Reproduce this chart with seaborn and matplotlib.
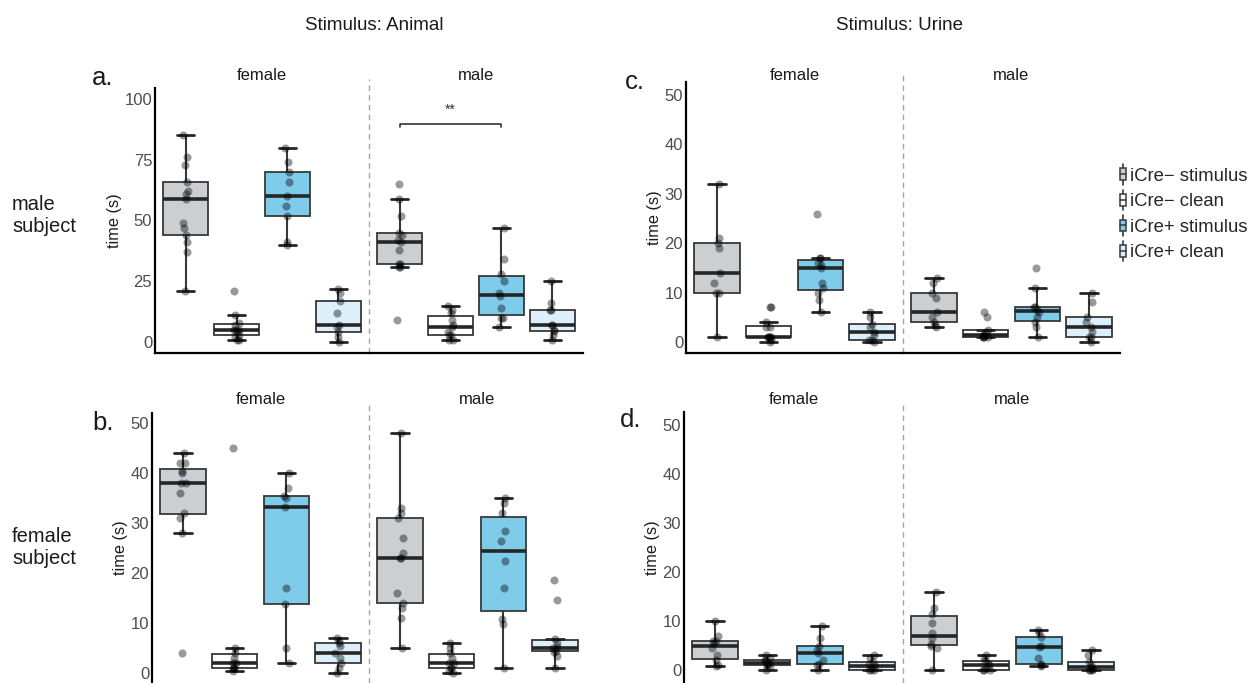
import numpy as np
import pandas as pd
import matplotlib
matplotlib.use("Agg")
import matplotlib.pyplot as plt
import seaborn as sns
from matplotlib.legend_handler import HandlerBase
from matplotlib.patches import Rectangle, Patch
from matplotlib.lines import Line2D

# ---------------------------------------------------------------- data
conditions = ["iCre− stimulus", "iCre− clean", "iCre+ stimulus", "iCre+ clean"]
box_colors = ["#cbcfd2", "#ffffff", "#7fcbea", "#ddeffa"]
stimulus_sexes = ["female", "male"]

# a. male subject, animal stimulus (one list per condition)
a_female = [[85, 76, 73, 66, 62, 61, 59, 49, 47, 44, 41, 37, 21],
            [21, 11, 8, 7, 5, 5, 5, 4, 3, 2, 1, 1],
            [80, 74, 70, 66, 60, 56, 52, 41, 40],
            [22, 20, 17, 12, 7, 6, 4, 2, 0]]
a_male = [[65, 59, 52, 45, 44, 42, 41, 38, 32, 32, 31, 31, 9],
          [15, 13, 12, 9, 7, 6, 4, 3, 3, 1, 1],
          [47, 34, 28, 25, 20, 19, 14, 10, 10, 6],
          [25, 16, 13, 13, 7, 7, 5, 4.5, 3, 1]]

# b. female subject, animal stimulus
b_female = [[44, 42, 42, 40.5, 40, 38, 38, 36, 32, 31, 28, 4],
            [45, 5, 4, 3, 2, 2, 1, 1, 1, 0.5],
            [40, 37, 35.4, 35, 33.3, 17, 13.9, 5, 2],
            [7, 6.5, 6, 5.5, 4, 3, 2, 1, 0]]
b_male = [[48, 33, 32, 31, 27, 24, 23, 23, 16, 14, 13, 11, 5],
          [6, 5, 4, 3, 2, 2, 1, 1, 0.5, 0],
          [35, 34, 32, 28.5, 26.5, 22.5, 17, 10.9, 9.8, 1],
          [18.6, 14.6, 6.8, 6, 5.2, 5, 4.5, 4.3, 3.5, 1]]

# c. male subject, urine stimulus
c_female = [[32, 21, 20, 19, 14, 12, 10, 10, 1],
            [7, 7, 4, 3, 3, 1, 1, 1, 1, 1, 0.5, 0],
            [26, 17, 17, 16, 15.5, 15, 12, 11, 10, 8.5, 6],
            [6, 5, 3.6, 3, 2, 1.5, 0.5, 0.5, 0]]
c_male = [[13, 12, 10, 9, 6, 5, 4, 3.5, 3],
          [6, 5, 2.5, 2, 1.5, 1.5, 1, 1, 1, 1],
          [15, 11, 7, 7, 6.5, 6, 5, 4, 3, 1],
          [10, 8, 5, 4, 3, 2, 1, 1, 0]]

# d. female subject, urine stimulus
d_female = [[10, 7, 6, 6, 5.5, 4.5, 3, 2, 1, 0.8],
            [3, 2.5, 2, 1.8, 1.5, 1.2, 1, 0.9, 0],
            [9, 6.5, 4.8, 4, 3.5, 2, 1.2, 1, 0],
            [3, 2.5, 1.7, 1.2, 0.9, 0.5, 0, 0, 0]]
d_male = [[16, 12.6, 11.5, 9.5, 7.5, 6.5, 5.4, 5, 4.4, 0],
          [3, 2.5, 1.9, 1.5, 1, 0.5, 0, 0, 0],
          [8.2, 7.5, 6.8, 5, 4.6, 2.5, 1.2, 1.1, 0.9],
          [4, 3, 1.7, 1, 0.6, 0.3, 0, 0, 0]]

# ---------------------------------------------------------------- style
sns.set_theme(style="white")
plt.rcParams["font.family"] = ["Liberation Sans", "DejaVu Sans"]
np.random.seed(7)

W, H = 1249, 683
fig = plt.figure(figsize=(W / 100, H / 100), dpi=100)
palette = dict(zip(conditions, box_colors))


def px_rect(x0, x1, y0, y1):
    return [x0 / W, 1 - y1 / H, (x1 - x0) / W, (y1 - y0) / H]


def long_frame(groups):
    rows = []
    for cond, vals in zip(conditions, groups):
        rows += [(cond, v) for v in vals]
    return pd.DataFrame(rows, columns=["condition", "time"])


def draw_facet(ax, groups, ylim, yticks, first, bottom_row):
    df = long_frame(groups)
    sns.boxplot(data=df, x="condition", y="time", hue="condition",
                order=conditions, hue_order=conditions, palette=palette,
                saturation=1, width=0.88, showfliers=False, legend=False,
                ax=ax, linecolor="#383838", linewidth=1.3, capwidths=0.34,
                medianprops={"linewidth": 2.6, "color": "#262626"},
                capprops={"linewidth": 2.0, "color": "#262626"},
                whiskerprops={"linewidth": 1.5, "color": "#383838"})
    sns.stripplot(data=df, x="condition", y="time", order=conditions,
                  color="black", alpha=0.4, size=5.8, jitter=0.06,
                  ax=ax, zorder=4)
    ax.set_xlim(-0.6, 3.6)
    ax.set_ylim(*ylim)
    ax.set_yticks(yticks)
    ax.set_xticks([])
    ax.set_xlabel("")
    for s in ["top", "right"]:
        ax.spines[s].set_visible(False)
    ax.spines["bottom"].set_visible(not bottom_row)
    ax.spines["bottom"].set_color("black")
    ax.spines["bottom"].set_linewidth(1.6)
    if first:
        ax.spines["left"].set_color("black")
        ax.spines["left"].set_linewidth(1.6)
        ax.tick_params(axis="y", length=0, pad=2, labelsize=12,
                       labelcolor="#4d4d4d")
        ax.set_ylabel("time (s)", fontsize=11.7, color="#1a1a1a", labelpad=2)
    else:
        ax.spines["left"].set_visible(False)
        ax.set_yticks([])
        ax.set_ylabel("")
        ax.plot([0, 0], [0, 1.035], transform=ax.transAxes, clip_on=False,
                color="#a6a6a6", lw=1.0, ls=(0, (4, 3)))


panels = [
    # letter, data (female, male), x0, xmid, x1, y0, y1, ylim, yticks, letter pos, label y, bottom row
    ("a.", (a_female, a_male), 155, 369, 583, 88, 353, (-4.53, 104.5),
     [0, 25, 50, 75, 100], (92, 78), 76, False),
    ("c.", (c_female, c_male), 686, 903, 1120, 82, 353, (-2.23, 52.63),
     [0, 10, 20, 30, 40, 50], (625, 82), 76, False),
    ("b.", (b_female, b_male), 152, 369, 586, 413, 683, (-2.0, 52.0),
     [0, 10, 20, 30, 40, 50], (92, 423), 399, True),
    ("d.", (d_female, d_male), 684, 903, 1122, 412, 683, (-2.65, 52.65),
     [0, 10, 20, 30, 40, 50], (620, 420), 399, True),
]

axes = {}
for letter, data, x0, xm, x1, y0, y1, ylim, yt, lpos, laby, bot in panels:
    ax_f = fig.add_axes(px_rect(x0, xm, y0, y1))
    ax_m = fig.add_axes(px_rect(xm, x1, y0, y1))
    draw_facet(ax_f, data[0], ylim, yt, True, bot)
    draw_facet(ax_m, data[1], ylim, yt, False, bot)
    axes[letter] = (ax_f, ax_m)
    for sex, xa, xb in zip(stimulus_sexes, (x0, xm), (xm, x1)):
        fig.text((xa + xb) / 2 / W, 1 - laby / H, sex, ha="center",
                 va="center", fontsize=12, color="#1a1a1a")
    fig.text(lpos[0] / W, 1 - lpos[1] / H, letter, ha="left", va="center",
             fontsize=18.5, color="#1a1a1a")

# significance bracket between iCre− stimulus and iCre+ stimulus (a., male)
ax_am = axes["a."][1]
ax_am.plot([0, 0, 2, 2], [88.4, 89.7, 89.7, 88.4], color="#333333", lw=1.2,
           clip_on=False)
ax_am.text(1, 92.5, "**", ha="center", va="bottom", fontsize=10,
           color="#333333")

# column and row headings
fig.text(374 / W, 1 - 25 / H, "Stimulus: Animal", ha="center", va="center",
         fontsize=13.5, color="#1a1a1a")
fig.text(900 / W, 1 - 25 / H, "Stimulus: Urine", ha="center", va="center",
         fontsize=13.5, color="#1a1a1a")
fig.text(12 / W, 1 - 215 / H, "male\nsubject", ha="left", va="center",
         fontsize=14.5, color="#1a1a1a", linespacing=1.2)
fig.text(12 / W, 1 - 548 / H, "female\nsubject", ha="left", va="center",
         fontsize=14.5, color="#1a1a1a", linespacing=1.2)


class BoxGlyph(HandlerBase):
    def create_artists(self, legend, orig_handle, xdescent, ydescent,
                       width, height, fontsize, trans):
        cx = -xdescent + width / 2
        bw = width * 0.8
        bh = height * 0.7
        yc = -ydescent + height / 2
        whisk = Line2D([cx, cx], [yc - height * 0.62, yc + height * 0.62],
                       color="#383838", lw=1.2, transform=trans)
        box = Rectangle((cx - bw / 2, yc - bh / 2), bw, bh,
                        facecolor=orig_handle.get_facecolor(),
                        edgecolor="#383838", lw=1.1, transform=trans)
        med = Line2D([cx - bw / 2, cx + bw / 2], [yc, yc], color="#383838",
                     lw=1.1, transform=trans)
        return [whisk, box, med]


handles = [Patch(facecolor=c) for c in box_colors]
fig.legend(handles, conditions, handler_map={Patch: BoxGlyph()},
           loc="upper left", bbox_to_anchor=(1119 / W, 1 - 166 / H),
           frameon=False, fontsize=13.3, handlelength=0.42, handleheight=1.0,
           handletextpad=0.2, labelspacing=0.38, borderaxespad=0,
           borderpad=0)

fig.savefig("out.png", dpi=100)
